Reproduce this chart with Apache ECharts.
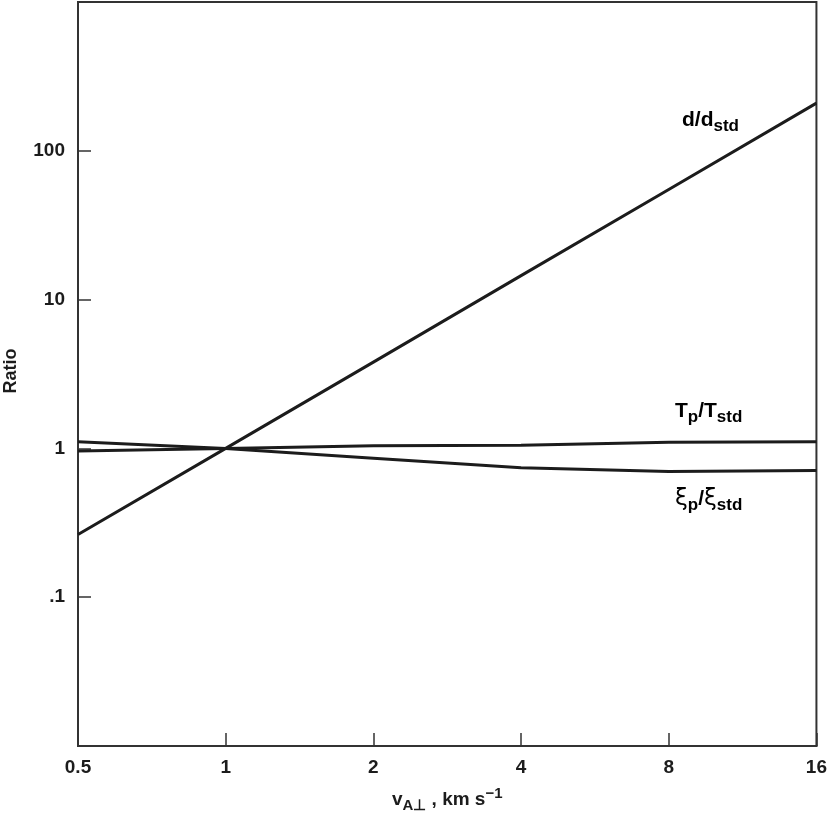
<!DOCTYPE html>
<html><head><meta charset="utf-8">
<script src="https://cdn.jsdelivr.net/npm/echarts@6/dist/echarts.min.js"></script>
<style>html,body{margin:0;padding:0;background:#fff}#c{width:830px;height:818px}</style>
</head><body><div id="c"></div>
<script>
const xValues = [0.5, 1, 2, 4, 8, 16];
const dRatio = [0.264, 1, 3.8, 14.5, 55, 209];
const tRatio = [0.96, 1, 1.04, 1.05, 1.1, 1.11];
const xiRatio = [1.11, 1, 0.86, 0.74, 0.70, 0.71];
const xTickLabels = {0.5:'0.5',1:'1',2:'2',4:'4',8:'8',16:'16'};
const yTickLabels = {100:'100',10:'10',1:'1',0.1:'.1'};

const FONT = 'Liberation Sans';
const INK = '#1c1c1c';
function pairs(vals){ return xValues.map((x,i)=>[x, vals[i]]); }
function keyOf(v){ return String(parseFloat(Number(v).toPrecision(6))); }

const chart = echarts.init(document.getElementById('c'));
const lineStyle = {color: INK, width: 3};
const subRich = {
  m: {fontFamily: FONT, fontWeight: 'bold', fontSize: 21, color: INK},
  s: {fontFamily: FONT, fontWeight: 'bold', fontSize: 17, color: INK, padding: [13,0,0,0]},
  g: {fontFamily: 'DejaVu Sans', fontSize: 23, color: INK}
};
chart.setOption({
  animation: false,
  backgroundColor: '#fff',
  grid: {left: 78, right: 11, top: 2, bottom: 72, show: true, borderColor: '#333', borderWidth: 2, backgroundColor: 'transparent'},
  xAxis: {
    type: 'log', logBase: 2, min: 0.5, max: 16,
    axisLine: {show: true, lineStyle: {color: '#333', width: 2}},
    axisTick: {show: true, inside: true, length: 13, lineStyle: {color: '#333', width: 1.5}},
    splitLine: {show: false},
    axisLabel: {
      margin: 12, color: INK, fontFamily: FONT, fontWeight: 'bold', fontSize: 19,
      formatter: v => xTickLabels[keyOf(v)] || ''
    },
    name: '{v|v}{s|A⊥}{t| , km s}{p|−1}',
    nameLocation: 'middle', nameGap: 40,
    nameTextStyle: {
      rich: {
        v: {fontFamily: FONT, fontWeight: 'bold', fontSize: 19, color: INK},
        s: {fontFamily: FONT, fontWeight: 'bold', fontSize: 15, color: INK, verticalAlign: 'bottom', padding: [12,0,0,0]},
        t: {fontFamily: FONT, fontWeight: 'bold', fontSize: 19, color: INK},
        p: {fontFamily: FONT, fontWeight: 'bold', fontSize: 15, color: INK, verticalAlign: 'top', padding: [0,0,10,0]}
      }
    }
  },
  yAxis: {
    type: 'log', logBase: 10, min: 0.01, max: 1000,
    axisLine: {show: true, lineStyle: {color: '#333', width: 2}},
    axisTick: {show: true, inside: true, length: 13, lineStyle: {color: '#333', width: 1.5}},
    splitLine: {show: false},
    minorTick: {show: false},
    axisLabel: {
      margin: 13, color: INK, fontFamily: FONT, fontWeight: 'bold', fontSize: 19,
      formatter: v => yTickLabels[keyOf(v)] || ''
    }
  },
  graphic: [
    {type: 'text', x: 11, y: 371, rotation: Math.PI/2, style: {text: 'Ratio', font: 'bold 18px "Liberation Sans"', fill: INK, align: 'center', verticalAlign: 'middle'}},
    {type: 'text', x: 682, y: 105, style: {text: '{m|d/d}{s|std}', rich: subRich}},
    {type: 'text', x: 675, y: 396, style: {text: '{m|T}{s|p}{m|/T}{s|std}', rich: subRich}},
    {type: 'text', x: 675, y: 484, style: {text: '{g|ξ}{s|p}{m|/}{g|ξ}{s|std}', rich: subRich}}
  ],
  series: [
    {type: 'line', data: pairs(dRatio), symbol: 'none', lineStyle, silent: true},
    {type: 'line', data: pairs(tRatio), symbol: 'none', lineStyle, silent: true},
    {type: 'line', data: pairs(xiRatio), symbol: 'none', lineStyle, silent: true}
  ]
});
</script>
</body></html>
